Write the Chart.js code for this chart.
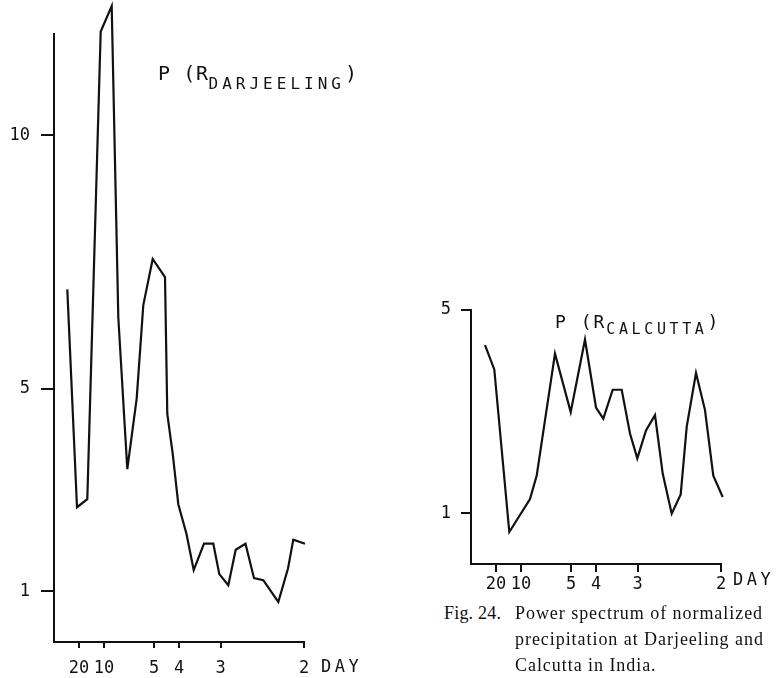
<!DOCTYPE html>
<html>
<head>
<meta charset="utf-8">
<script src="https://cdn.jsdelivr.net/npm/chart.js@4.4.1/dist/chart.umd.min.js"></script>
<style>
  body { margin: 0; background: #fff; width: 784px; height: 678px; position: relative; overflow: hidden; }
  canvas { position: absolute; }
  .title { position: absolute; font-family: 'DejaVu Sans Mono', monospace; color: #111; line-height: 24px; white-space: nowrap; }
  .title .sub { position: relative; }
  .unit { position: absolute; font-family: 'DejaVu Sans Mono', monospace; font-size: 17px; color: #111; line-height: 24px; letter-spacing: 3.5px; }
  .caption { position: absolute; font-family: 'Liberation Serif', serif; font-size: 18px; line-height: 26px; color: #111; white-space: nowrap; }
</style>
</head>
<body>
<canvas id="darjeeling" width="340" height="678" style="left:0;top:0"></canvas>
<canvas id="calcutta" width="340" height="320" style="left:400px;top:280px"></canvas>

<div class="title" style="left:158px;top:61px;font-size:20px;letter-spacing:0.6px">P (R<span class="sub" style="font-size:16px;top:9px;letter-spacing:4px">DARJEELING</span>)</div>
<div class="title" style="left:555px;top:310px;font-size:18px;letter-spacing:2px">P (R<span class="sub" style="font-size:15px;top:6px;letter-spacing:3.6px">CALCUTTA</span>)</div>

<div class="unit" style="left:321px;top:654px">DAY</div>
<div class="unit" style="left:733px;top:567px">DAY</div>

<div class="caption" style="left:444px;top:600px;letter-spacing:0.2px">Fig. 24.</div>
<div class="caption" style="left:515px;top:600px;letter-spacing:0.95px">Power spectrum of normalized<br>precipitation at Darjeeling and<br>Calcutta in India.</div>

<script>
// frequency in cycles per day, spectral power (normalized)
const darjFreq = [0.0266, 0.046, 0.0666, 0.0934, 0.1154, 0.1286, 0.1466, 0.1654, 0.1786, 0.1974,
                  0.222, 0.2266, 0.2374, 0.2486, 0.265, 0.2794, 0.300, 0.3186, 0.3306, 0.3486,
                  0.3634, 0.383, 0.400, 0.4186, 0.4486, 0.468, 0.4786, 0.502];
const darjPower = [6.96, 2.66, 2.82, 12.05, 12.55, 6.41, 3.41, 4.81, 6.65, 7.56,
                   7.20, 4.50, 3.72, 2.72, 2.13, 1.42, 1.94, 1.94, 1.34, 1.12,
                   1.82, 1.94, 1.26, 1.22, 0.79, 1.45, 2.02, 1.94];

const calcFreq = [0.028, 0.0466, 0.0766, 0.118, 0.1314, 0.168, 0.1994, 0.228, 0.250, 0.2646,
                  0.2834, 0.3014, 0.318, 0.3326, 0.350, 0.368, 0.3834, 0.4014, 0.4194, 0.4314,
                  0.450, 0.468, 0.4846, 0.5034];
const calcPower = [4.31, 3.83, 0.63, 1.28, 1.74, 4.14, 2.99, 4.42, 3.08, 2.86,
                   3.43, 3.43, 2.57, 2.08, 2.63, 2.93, 1.78, 0.99, 1.37, 2.70,
                   3.76, 3.03, 1.74, 1.32];

// period labels on the frequency axis (days)
const periodTicks = [20, 10, 5, 4, 3, 2];
const darjPowerTicks = [1, 5, 10];
const calcPowerTicks = [1, 5];

Chart.defaults.font.family = "'DejaVu Sans Mono', monospace";
Chart.defaults.font.size = 17;
Chart.defaults.color = '#111';

function makeSpectrum(canvasId, freq, power, yMax, yTicks, opts) {
    const data = freq.map((x, i) => ({ x, y: power[i] }));
    const ctx = document.getElementById(canvasId).getContext('2d');
    return new Chart(ctx, {
        type: 'line',
        data: {
            datasets: [{
                data: data,
                borderColor: '#111',
                borderWidth: 2.2,
                pointRadius: 0,
                tension: 0,
                fill: false,
                clip: false
            }]
        },
        options: {
            responsive: false,
            animation: false,
            layout: { padding: opts.padding },
            plugins: { legend: { display: false }, tooltip: { enabled: false } },
            scales: {
                x: {
                    type: 'linear',
                    min: 0,
                    max: 0.5,
                    afterBuildTicks: (axis) => {
                        axis.ticks = periodTicks.map(p => ({ value: 1 / p }));
                    },
                    afterFit: (axis) => { axis.height = 36; },
                    ticks: {
                        autoSkip: false,
                        maxRotation: 0,
                        padding: opts.xPad,
                        callback: (value) => String(Math.round(1 / value))
                    },
                    grid: {
                        drawOnChartArea: false,
                        drawTicks: true,
                        tickLength: opts.xTickLen,
                        color: '#111',
                        lineWidth: 2
                    },
                    border: { display: true, color: '#111', width: 2 }
                },
                y: {
                    type: 'linear',
                    min: 0,
                    max: yMax,
                    afterBuildTicks: (axis) => {
                        axis.ticks = yTicks.map(v => ({ value: v }));
                    },
                    afterFit: (axis) => { axis.width = 54; },
                    ticks: { padding: opts.yPad },
                    grid: {
                        drawOnChartArea: false,
                        drawTicks: true,
                        tickLength: opts.yTickLen,
                        color: '#111',
                        lineWidth: 2
                    },
                    border: { display: true, color: '#111', width: 2 }
                }
            }
        }
    });
}

makeSpectrum('darjeeling', darjFreq, darjPower, 12, darjPowerTicks,
    { padding: { top: 34, right: 36, left: 0, bottom: 0 }, xPad: 10, xTickLen: 6, yPad: 11, yTickLen: 13 });
makeSpectrum('calcutta', calcFreq, calcPower, 5, calcPowerTicks,
    { padding: { top: 30, right: 19, left: 17, bottom: 0 }, xPad: 2, xTickLen: 8, yPad: 10, yTickLen: 10 });
</script>
</body>
</html>
